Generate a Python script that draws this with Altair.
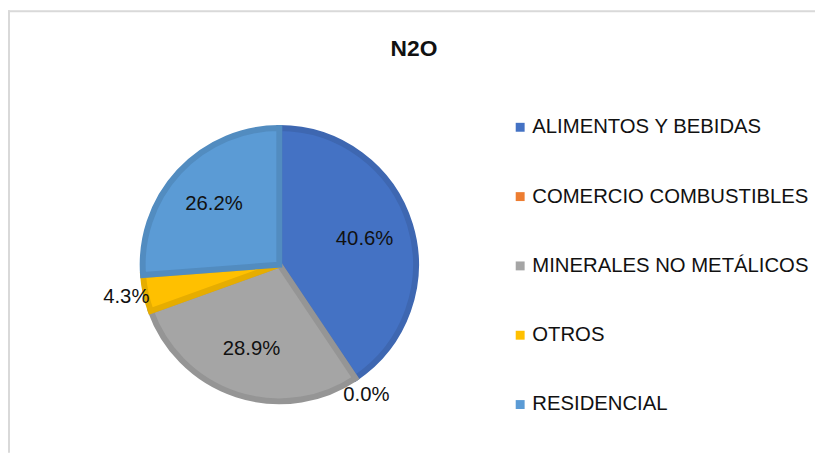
import altair as alt
import pandas as pd

title_text = "N2O"
categories = ["ALIMENTOS Y BEBIDAS", "COMERCIO COMBUSTIBLES", "MINERALES NO METÁLICOS", "OTROS", "RESIDENCIAL"]
shares = [40.6, 0.0, 28.9, 4.3, 26.2]
fill_colors = ["#4472C4", "#ED7D31", "#A5A5A5", "#FFC000", "#5B9BD5"]
edge_colors = ["#3E67B1", "#D5712C", "#959595", "#E6AD00", "#528CC0"]

df = pd.DataFrame({"categoria": categories, "valor": shares, "orden": list(range(len(categories)))})

W, H = 815, 447
CX, CY = 274, 257
FONT = "Liberation Sans"

base = alt.Chart(df).encode(
    theta=alt.Theta("valor:Q", stack=True),
    order=alt.Order("orden:Q"),
    x=alt.value(CX),
    y=alt.value(CY),
)

pie = base.mark_arc(outerRadius=138).encode(
    color=alt.Color(
        "categoria:N",
        scale=alt.Scale(domain=categories, range=fill_colors),
        legend=alt.Legend(
            title=None, orient="none", legendX=507, legendY=108,
            symbolType="square", symbolSize=81, symbolStrokeWidth=0,
            labelFont=FONT, labelFontSize=20.5, labelColor="#111111",
            labelLimit=400, rowPadding=49, labelOffset=2, padding=0,
        ),
    ),
    stroke=alt.Stroke("categoria:N", scale=alt.Scale(domain=categories, range=edge_colors), legend=None),
    strokeWidth=alt.condition("datum.valor > 0", alt.value(6), alt.value(0)),
)

inner = base.transform_calculate(
    lbl="datum.valor >= 5 ? format(datum.valor, '.1f') + '%' : ''"
).mark_text(radius=90, font=FONT, fontSize=20.5, color="#111111").encode(text="lbl:N")

outer = base.transform_calculate(
    lbl="datum.valor < 5 ? format(datum.valor, '.1f') + '%' : ''"
).mark_text(radius=158, font=FONT, fontSize=20.5, color="#111111").encode(text="lbl:N")

frame = alt.Data(values=[{"k": 1}])
border_left = alt.Chart(frame).mark_rule(color="#d9d9d9", strokeWidth=2).encode(
    x=alt.value(1), y=alt.value(0), y2=alt.value(H)
)
border_top = alt.Chart(frame).mark_rule(color="#d9d9d9", strokeWidth=2).encode(
    y=alt.value(1), x=alt.value(0), x2=alt.value(W)
)

title = alt.Chart(alt.Data(values=[{"t": title_text}])).mark_text(
    font=FONT, fontSize=23, fontWeight="bold", color="#111111", baseline="middle"
).encode(text="t:N", x=alt.value(410), y=alt.value(39))

chart = alt.layer(border_left, border_top, pie, inner, outer, title).properties(
    width=W, height=H, padding=0, autosize="none"
).configure_view(stroke=None)

chart.save("out.html", embed_options={"renderer": "svg", "actions": False})
